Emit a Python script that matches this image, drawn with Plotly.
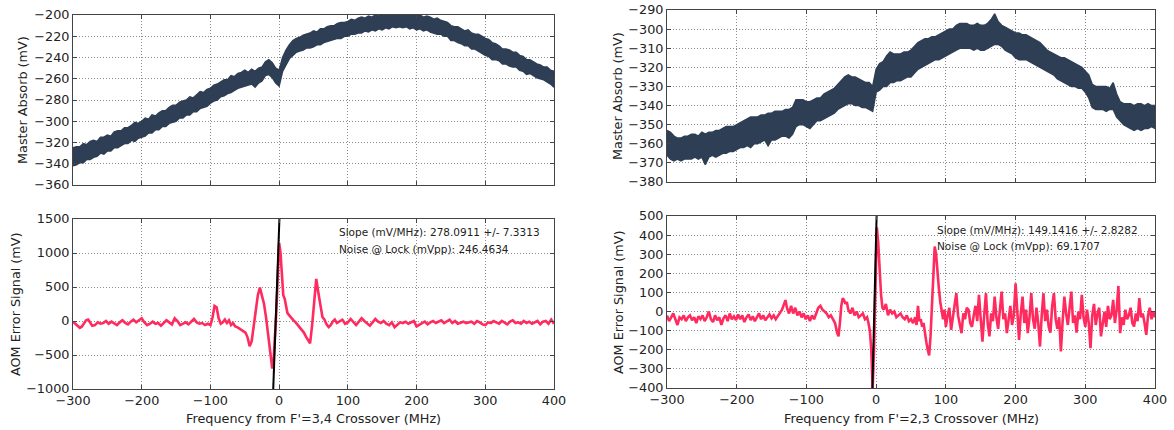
import plotly.graph_objects as go

# ---------------- F'=3,4 crossover scan ----------------
freq_34 = list(range(-300, 405, 5))
absorb_34_hi = [
    -325, -324, -324, -321, -322, -319, -318, -319, -315, -315,
    -313, -314, -310, -309, -309, -306, -306, -304, -301, -302,
    -300, -297, -298, -294, -295, -292, -290, -290, -287, -285,
    -285, -282, -281, -280, -277, -278, -275, -272, -273, -270,
    -269, -266, -265, -263, -261, -261, -257, -258, -255, -254,
    -252, -254, -251, -253, -250, -249, -244, -242, -245, -250,
    -252, -240, -233, -228, -224, -222, -221, -219, -218, -217,
    -215, -216, -213, -213, -211, -210, -210, -208, -207, -207,
    -206, -204, -205, -203, -202, -203, -201, -202, -200, -201,
    -199, -200, -198, -199, -197, -199, -198, -200, -198, -199,
    -200, -200, -202, -201, -202, -204, -203, -205, -206, -207,
    -210, -211, -211, -213, -215, -214, -217, -218, -218, -220,
    -222, -223, -226, -227, -229, -232, -232, -233, -235, -235,
    -238, -239, -242, -242, -244, -246, -247, -249, -249, -252,
    -253,
]
absorb_34_lo = [
    -342, -341, -339, -339, -336, -336, -334, -333, -330, -331,
    -328, -328, -325, -325, -323, -321, -321, -318, -319, -316,
    -315, -314, -311, -311, -308, -308, -305, -305, -302, -301,
    -300, -297, -297, -294, -294, -291, -291, -288, -287, -286,
    -283, -281, -280, -277, -276, -274, -273, -271, -269, -268,
    -267, -266, -265, -268, -264, -262, -257, -256, -259, -264,
    -267, -253, -247, -241, -238, -235, -234, -233, -231, -231,
    -230, -228, -228, -226, -225, -224, -223, -222, -222, -220,
    -220, -218, -218, -217, -217, -215, -216, -214, -215, -213,
    -214, -212, -213, -211, -212, -211, -212, -211, -213, -212,
    -214, -213, -215, -214, -216, -217, -218, -218, -220, -220,
    -224, -224, -226, -227, -229, -229, -232, -232, -234, -236,
    -238, -239, -242, -242, -243, -246, -246, -248, -249, -249,
    -252, -253, -256, -255, -257, -259, -260, -261, -263, -265,
    -268,
]

err_34_freq = [
    -300, -297, -294, -290, -287, -284, -281, -278, -275, -272,
    -268, -264, -260, -256, -252, -248, -244, -240, -236, -232,
    -228, -224, -220, -216, -212, -208, -204, -200, -196, -192,
    -188, -184, -180, -176, -172, -168, -164, -160, -156, -152,
    -148, -144, -140, -136, -132, -128, -124, -120, -116, -112,
    -108, -104, -100, -97, -94, -91, -88, -85, -82, -79,
    -76, -73, -70, -67, -64, -61, -58, -55, -52, -49,
    -46, -43, -40, -37, -34, -31, -28, -25, -22, -19,
    -16, -13, -10, -8, -6, -4, -2, 0, 2, 4,
    6, 8, 10, 12, 15, 18, 21, 24, 27, 30,
    33, 36, 39, 42, 45, 48, 51, 54, 57, 60,
    63, 66, 69, 72, 75, 78, 81, 84, 88, 92,
    96, 100, 104, 108, 112, 116, 120, 124, 128, 132,
    136, 140, 144, 148, 152, 156, 160, 164, 168, 172,
    176, 180, 184, 188, 192, 196, 200, 204, 208, 212,
    216, 220, 224, 228, 232, 236, 240, 244, 248, 252,
    256, 260, 264, 268, 272, 276, 280, 284, 288, 292,
    296, 300, 304, 308, 312, 316, 320, 324, 328, 332,
    336, 340, 344, 348, 352, 356, 360, 364, 368, 372,
    376, 380, 384, 388, 392, 396, 400,
]
err_34_mv = [
    -10, -40, -70, -100, -80, -30, 10, 20, -30, -70,
    -60, -20, -40, -30, 0, -40, -10, -30, -60, -20,
    10, -30, -50, -10, 20, -20, 10, 40, -20, -60,
    -40, -10, -40, -30, -70, -30, 10, -20, -50, 40,
    0, -60, -40, -20, -50, -10, 30, -20, -40, -30,
    -60, -40, -60, 50, 220, 200, 40, -40, -20, 20,
    -30, 10, -60, -30, -80, -90, -110, -120, -140, -170,
    -240, -370, -300, -80, 200, 380, 490, 360, 250, 50,
    -200, -420, -700, -560, -250, 150, 650, 1150, 1000, 580,
    380, 330, 200, 120, 80, 40, 10, -20, -60, -100,
    -130, -170, -230, -290, -330, -60, 300, 620, 420, 250,
    60, 20, -50, -90, -60, -10, 20, -30, -10, 20,
    -40, -20, 30, -20, -60, -10, 40, 0, -40, -70,
    -20, 30, -10, -30, 0, -40, -60, -20, -90, -50,
    -20, -30, -10, -40, -20, 0, -80, -50, -30, -10,
    -50, -20, 0, -30, -10, 10, -30, -10, 20, -30,
    0, -40, -20, -10, -30, -20, -10, -40, 0, -20,
    -50, -60, -20, -30, 0, -20, -40, 0, -30, -50,
    -10, 10, -30, -20, -40, 0, -30, -10, -40, -20,
    0, -50, -10, 0, -40, 20, -40,
]
slope_34 = 278.0911
slope_34_err = 7.3313
noise_34 = 246.4634
zero_34 = -5.0

# ---------------- F'=2,3 crossover scan ----------------
freq_23 = list(range(-300, 405, 5))
absorb_23_hi = [
    -353, -354, -356, -357, -357, -356, -356, -355, -355, -356,
    -354, -355, -354, -354, -353, -353, -352, -351, -351, -351,
    -350, -349, -348, -347, -346, -346, -346, -345, -345, -344,
    -344, -343, -343, -343, -342, -342, -341, -337, -337, -337,
    -338, -338, -337, -336, -336, -334, -333, -332, -331, -329,
    -327, -325, -324, -325, -325, -326, -327, -328, -328, -330,
    -321, -318, -317, -314, -312, -313, -313, -313, -312, -312,
    -311, -309, -307, -306, -305, -305, -304, -304, -303, -302,
    -301, -300, -300, -298, -297, -297, -297, -298, -298, -297,
    -298, -298, -297, -295, -292, -296, -298, -299, -300, -301,
    -302, -302, -303, -303, -304, -305, -306, -307, -309, -311,
    -312, -313, -314, -315, -315, -316, -317, -318, -319, -320,
    -322, -324, -329, -330, -330, -330, -330, -331, -328, -334,
    -338, -339, -339, -339, -340, -339, -339, -340, -339, -340,
    -340,
]
absorb_23_lo = [
    -366, -368, -369, -368, -369, -368, -368, -368, -367, -368,
    -367, -371, -367, -366, -367, -366, -365, -365, -364, -364,
    -363, -362, -362, -361, -362, -360, -360, -359, -358, -361,
    -358, -358, -357, -356, -356, -357, -355, -351, -350, -350,
    -351, -352, -350, -348, -348, -347, -346, -345, -344, -342,
    -341, -340, -339, -339, -340, -340, -341, -341, -342, -343,
    -333, -332, -330, -330, -328, -328, -327, -327, -326, -325,
    -325, -323, -321, -320, -319, -318, -317, -316, -316, -315,
    -314, -313, -312, -311, -310, -310, -310, -310, -311, -310,
    -311, -311, -310, -309, -308, -308, -309, -311, -312, -313,
    -315, -316, -316, -316, -317, -318, -319, -320, -321, -322,
    -323, -324, -326, -327, -328, -329, -330, -330, -331, -331,
    -333, -336, -341, -342, -342, -342, -343, -342, -342, -346,
    -348, -350, -351, -352, -353, -352, -353, -352, -352, -351,
    -352,
]

err_23_freq = [
    -300, -297, -294, -291, -288, -285, -282, -279, -276, -273,
    -270, -267, -264, -261, -258, -255, -252, -249, -246, -243,
    -240, -237, -234, -231, -228, -225, -222, -219, -216, -213,
    -210, -207, -204, -201, -198, -195, -192, -189, -186, -183,
    -180, -177, -174, -171, -168, -165, -162, -159, -156, -153,
    -150, -147, -144, -141, -138, -135, -132, -130, -128, -125,
    -122, -119, -116, -113, -110, -107, -104, -101, -98, -95,
    -92, -89, -86, -83, -80, -77, -74, -71, -68, -65,
    -62, -59, -56, -54, -52, -50, -48, -46, -44, -42,
    -40, -37, -34, -31, -28, -25, -22, -19, -16, -13,
    -11, -9, -7, -5, -3, -1, 1, 3, 5, 7,
    9, 11, 14, 17, 20, 23, 26, 29, 32, 35,
    38, 41, 44, 47, 50, 53, 56, 58, 60, 62,
    64, 66, 68, 70, 72, 74, 76, 78, 80, 82,
    84, 86, 88, 90, 92, 94, 96, 98,
    100, 102.5, 105, 107.5, 110, 112.5, 115, 117.5, 120, 122.5,
    125, 127.5, 130, 132.5, 135, 137.5, 140, 142.5, 145, 147.5,
    150, 152.5, 155, 157.5, 160, 162.5, 165, 167.5, 170, 172.5,
    175, 177.5, 180, 182.5, 185, 187.5, 190, 192.5, 195, 197.5,
    200, 202.5, 205, 207.5, 210, 212.5, 215, 217.5, 220, 222.5,
    225, 227.5, 230, 232.5, 235, 237.5, 240, 242.5, 245, 247.5,
    250, 252.5, 255, 257.5, 260, 262.5, 265, 267.5, 270, 272.5,
    275, 277.5, 280, 282.5, 285, 287.5, 290, 292.5, 295, 297.5,
    300, 302.5, 305, 307.5, 310, 312.5, 315, 317.5, 320, 322.5,
    325, 327.5, 330, 332.5, 335, 337.5, 340, 342.5, 345, 347.5,
    350, 352.5, 355, 357.5, 360, 362.5, 365, 367.5, 370, 372.5,
    375, 377.5, 380, 382.5, 385, 387.5, 390, 392.5, 395, 397.5,
    400,
]
err_23_mv = [
    -20, -50, -30, -10, -40, -70, -30, -40, -20, -50,
    -30, -20, -45, -30, -60, -25, -40, -20, -50, -30,
    0, -40, -55, -20, -45, -30, -70, -35, -20, -50,
    -10, -40, -25, -45, -15, -40, -20, -55, -30, -15,
    -45, -25, -50, -30, -10, -40, -20, -45, -30, -15,
    -35, -20, -40, -25, -10, 10, 40, 60, 20, -10,
    30, -10, 20, -20, 0, -30, -10, -40, -20, -50,
    -20, -40, -10, 20, 30, 10, 0, -10, -30, -20,
    -40, -60, -110, -130, -60, 30, 70, 60, 40, 50,
    10, -10, 20, -20, 0, -30, -20, -10, -40, -30,
    -60, -100, -200, -400, -200, 150, 440, 360, 200, 90,
    20, 10, 40, -20, 10, -10, 0, -30, -20, -10,
    -30, -40, -20, -50, -40, -60, -30, -70, 30, -50,
    -40, -80, -60, -120, -160, -200, -230, -130, 60, 250,
    340, 300, 180, 120, 50, 0, -40, 10,
    -80, -20, 20, -96, -30, 10, 96, -20, -60, -113,
    -10, -40, 20, 9, -60, -80, -20, 30, -50, 87,
    -40, -157, -20, 96, -60, -130, -10, -50, 78, -30,
    -90, 20, 104, -40, -10, -113, -50, 30, -70, -20,
    148, -30, -148, -10, 78, -60, 10, -113, -30, 96,
    -40, -90, 20, -60, -183, -20, 96, -50, 10, -80,
    -110, 30, 96, -40, -90, -30, -209, -50, 78, -10,
    -70, 20, 104, -60, -20, -110, 0, -40, 87, -30,
    -80, 10, -60, -191, -20, 40, -70, -10, 20, -130,
    -50, 0, -80, 30, -40, -20, 61, -60, 10, 134,
    -113, -30, -70, 10, -40, -20, 20, -60, -78, -10,
    -50, 70, -30, -10, -60, -122, -20, 20, -40, 0,
    -30,
]
slope_23 = 149.1416
slope_23_err = 2.8282
noise_23 = 69.1707
zero_23 = -2.7

# ---------------- styling ----------------
BAND = "#2d3e55"
ERR = "#ff2b5e"
FONT = "DejaVu Sans"
TICK_SIZE = 12.8
W, H = 1174, 430

# panel frames in pixels: (left, right, top, bottom)
panels = {
    "tl": (73, 554, 15, 185),
    "bl": (73, 554, 219, 389),
    "tr": (667, 1155, 10, 182),
    "br": (667, 1155, 216, 388),
}


def xdom(p):
    l, r, _, _ = panels[p]
    return [l / W, r / W]


def ydom(p):
    _, _, t, b = panels[p]
    return [1 - b / H, 1 - t / H]


axis_style = dict(
    showline=True, linecolor="#444", linewidth=1, mirror="ticks",
    ticks="inside", ticklen=4, tickcolor="#444",
    showgrid=True, gridcolor="#8c8c8c", griddash="1px,2px", gridwidth=1,
    zeroline=False, automargin=False,
    tickfont=dict(family=FONT, size=TICK_SIZE, color="#222"),
)

fig = go.Figure()


def band(freq, hi, lo, xa, ya):
    fig.add_trace(go.Scatter(
        x=list(freq) + list(freq)[::-1], y=list(hi) + list(lo)[::-1],
        fill="toself", fillcolor=BAND, mode="lines",
        line=dict(color=BAND, width=1.5), xaxis=xa, yaxis=ya,
        hoverinfo="skip", showlegend=False))


def err_line(freq, mv, slope, zero, ylo, yhi, xa, ya):
    fig.add_trace(go.Scatter(
        x=freq, y=mv, mode="lines", line=dict(color=ERR, width=2.6),
        xaxis=xa, yaxis=ya, showlegend=False))
    fy = [ylo - 200, yhi + 200]
    fig.add_trace(go.Scatter(
        x=[zero + v / slope for v in fy], y=fy, mode="lines",
        line=dict(color="black", width=2), xaxis=xa, yaxis=ya,
        showlegend=False))


band(freq_34, absorb_34_hi, absorb_34_lo, "x", "y")
err_line(err_34_freq, err_34_mv, slope_34, zero_34, -1000, 1500, "x2", "y2")
band(freq_23, absorb_23_hi, absorb_23_lo, "x3", "y3")
err_line(err_23_freq, err_23_mv, slope_23, zero_23, -400, 500, "x4", "y4")

xticks = [-300, -200, -100, 0, 100, 200, 300, 400]

fig.update_layout(
    width=W, height=H, margin=dict(l=0, r=0, t=0, b=0),
    paper_bgcolor="white", plot_bgcolor="white",
    font=dict(family=FONT, size=TICK_SIZE, color="#222"),
    xaxis=dict(axis_style, domain=xdom("tl"), range=[-300, 400], tickvals=xticks,
               showticklabels=False, anchor="y"),
    yaxis=dict(axis_style, domain=ydom("tl"), range=[-360, -200],
               tickvals=list(range(-360, -199, 20)), anchor="x"),
    xaxis2=dict(axis_style, domain=xdom("bl"), range=[-300, 400], tickvals=xticks,
                anchor="y2"),
    yaxis2=dict(axis_style, domain=ydom("bl"), range=[-1000, 1500],
                tickvals=list(range(-1000, 1501, 500)), anchor="x2"),
    xaxis3=dict(axis_style, domain=xdom("tr"), range=[-300, 400], tickvals=xticks,
                showticklabels=False, anchor="y3"),
    yaxis3=dict(axis_style, domain=ydom("tr"), range=[-380, -290],
                tickvals=list(range(-380, -289, 10)), anchor="x3"),
    xaxis4=dict(axis_style, domain=xdom("br"), range=[-300, 400], tickvals=xticks,
                anchor="y4"),
    yaxis4=dict(axis_style, domain=ydom("br"), range=[-400, 500],
                tickvals=list(range(-400, 501, 100)), anchor="x4"),
)


def label(text, px, py, angle=0, size=TICK_SIZE, xanchor="center"):
    fig.add_annotation(
        text=text, x=px / W, y=1 - py / H, xref="paper", yref="paper",
        showarrow=False, textangle=angle, xanchor=xanchor, yanchor="middle",
        font=dict(family=FONT, size=size, color="#222"))


label("Master Absorb (mV)", 23, 100, -90)
label("AOM Error Signal (mV)", 15, 304, -90)
label("Master Absorb (mV)", 617, 96, -90)
label("AOM Error Signal (mV)", 618, 302, -90)
label("Frequency from F'=3,4 Crossover (MHz)", 313, 418)
label("Frequency from F'=2,3 Crossover (MHz)", 911, 418)

label(f"Slope (mV/MHz): {slope_34:.4f} +/- {slope_34_err:.4f}", 337, 232, size=10.5, xanchor="left")
label(f"Noise @ Lock (mVpp): {noise_34:.4f}", 337, 249, size=10.5, xanchor="left")
label(f"Slope (mV/MHz): {slope_23:.4f} +/- {slope_23_err:.4f}", 935, 230, size=10.5, xanchor="left")
label(f"Noise @ Lock (mVpp): {noise_23:.4f}", 935, 246, size=10.5, xanchor="left")

fig.write_html("out.html")
